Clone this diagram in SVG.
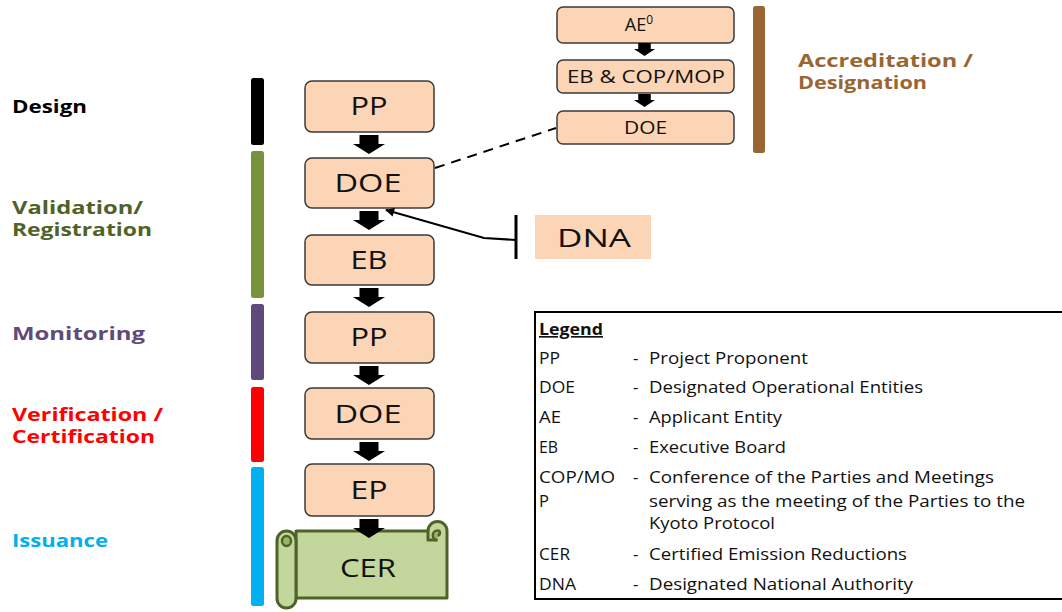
<svg xmlns="http://www.w3.org/2000/svg" width="1062" height="612" viewBox="0 0 1062 612">
  <style>
    .box { fill: #FBD5B5; stroke: #3a3a3a; stroke-width: 1.5; }
    .lbl { font-family: "Open Sans", "Liberation Sans", sans-serif; fill: #111; text-anchor: middle; }
    .big { font-size: 25px; }
    .sm { font-size: 18px; }
    .phase { font-family: "Open Sans", "Liberation Sans", sans-serif; font-weight: bold; font-size: 17px; }
    .leg { font-family: "Open Sans", "Liberation Sans", sans-serif; font-size: 16.5px; fill: #111; }
    .bar { stroke: none; }
  </style>
  <defs>
    <path id="blockArrow" d="M-9.5,0 h19 v9 h6.5 l-16,10 l-16,-10 h6.5 z" fill="#000"/>
    <marker id="tip" viewBox="0 0 10 10" refX="9" refY="5" markerWidth="10" markerHeight="9" markerUnits="userSpaceOnUse" orient="auto">
      <path d="M0,0 L10,5 L0,10 z" fill="#000"/>
    </marker>
  </defs>

  <!-- phase bars -->
  <g id="phase-bars">
    <rect class="bar" x="251" y="78" width="13" height="67" rx="2.5" fill="#000"/>
    <rect class="bar" x="251" y="151" width="13" height="147" rx="2.5" fill="#77933C"/>
    <rect class="bar" x="251" y="304" width="13" height="76" rx="2.5" fill="#604A7B"/>
    <rect class="bar" x="251" y="387" width="13" height="75" rx="2.5" fill="#FF0000"/>
    <rect class="bar" x="251" y="467" width="13" height="139" rx="2.5" fill="#00B0F0"/>
    <rect class="bar" x="753" y="6" width="12" height="147" rx="2.5" fill="#996633"/>
  </g>

  <!-- phase labels -->
  <g id="phase-labels">
    <text class="phase" x="12" y="113" fill="#000" textLength="75" lengthAdjust="spacingAndGlyphs">Design</text>
    <text class="phase" x="12" y="214" fill="#4F6228" textLength="131" lengthAdjust="spacingAndGlyphs">Validation/</text>
    <text class="phase" x="12" y="236" fill="#4F6228" textLength="140" lengthAdjust="spacingAndGlyphs">Registration</text>
    <text class="phase" x="12" y="340" fill="#604A7B" textLength="133" lengthAdjust="spacingAndGlyphs">Monitoring</text>
    <text class="phase" x="12" y="421" fill="#FF0000" textLength="151" lengthAdjust="spacingAndGlyphs">Verification /</text>
    <text class="phase" x="12" y="443" fill="#FF0000" textLength="143" lengthAdjust="spacingAndGlyphs">Certification</text>
    <text class="phase" x="12" y="547" fill="#00B0F0" textLength="96" lengthAdjust="spacingAndGlyphs">Issuance</text>
    <text class="phase" x="798" y="67" fill="#996633" textLength="175" lengthAdjust="spacingAndGlyphs">Accreditation /</text>
    <text class="phase" x="798" y="89" fill="#996633" textLength="129" lengthAdjust="spacingAndGlyphs">Designation</text>
  </g>

  <!-- main flow -->
  <g id="node-pp1">
    <rect class="box" x="305" y="81" width="129" height="51" rx="7"/>
    <text class="lbl big" x="369" y="115" textLength="37" lengthAdjust="spacingAndGlyphs">PP</text>
  </g>
  <g id="node-doe1">
    <rect class="box" x="305" y="158" width="129" height="50" rx="7"/>
    <text class="lbl big" x="368" y="192" textLength="67" lengthAdjust="spacingAndGlyphs">DOE</text>
  </g>
  <g id="node-eb">
    <rect class="box" x="305" y="235" width="129" height="50" rx="7"/>
    <text class="lbl big" x="369" y="269" textLength="37" lengthAdjust="spacingAndGlyphs">EB</text>
  </g>
  <g id="node-pp2">
    <rect class="box" x="305" y="312" width="129" height="51" rx="7"/>
    <text class="lbl big" x="369" y="346" textLength="37" lengthAdjust="spacingAndGlyphs">PP</text>
  </g>
  <g id="node-doe2">
    <rect class="box" x="305" y="388" width="129" height="51" rx="7"/>
    <text class="lbl big" x="368" y="423" textLength="67" lengthAdjust="spacingAndGlyphs">DOE</text>
  </g>
  <g id="node-ep">
    <rect class="box" x="305" y="464" width="129" height="52" rx="7"/>
    <text class="lbl big" x="369" y="499" textLength="37" lengthAdjust="spacingAndGlyphs">EP</text>
  </g>

  <!-- CER scroll -->
  <g id="node-cer" stroke="#4F6228" stroke-width="3" stroke-linejoin="round">
    <path d="M296,531 H428 A9.5,9.5 0 0 1 447,531 V598 H296 Z" fill="#C3D69B"/>
    <path d="M428,531 V540 H437.5" fill="none"/>
    <path d="M437.5,540 A4.7,4.7 0 0 1 437.5,530.6 A2.4,2.4 0 0 1 437.5,535.4" fill="#9BB563" stroke-width="2.5"/>
    <path d="M277,540.5 A9.5,9.5 0 0 1 296,540.5 V598.5 A9.5,9.5 0 0 1 277,598.5 Z" fill="#C3D69B"/>
    <ellipse cx="286.5" cy="541" rx="4.5" ry="5" fill="#9BB563" stroke-width="2.5"/>
    <text class="lbl big" x="368" y="577" stroke="none" fill="#111" textLength="56" lengthAdjust="spacingAndGlyphs">CER</text>
  </g>

  <!-- accreditation chain -->
  <g id="node-ae">
    <rect class="box" x="557" y="7" width="177" height="36" rx="6"/>
    <text class="lbl sm" x="639" y="31">AE<tspan font-size="12" dy="-7">0</tspan></text>
  </g>
  <g id="node-eb-cop">
    <rect class="box" x="557" y="60" width="177" height="33" rx="6"/>
    <text class="lbl sm" x="646" y="83" textLength="158" lengthAdjust="spacingAndGlyphs">EB &amp; COP/MOP</text>
  </g>
  <g id="node-doe-acc">
    <rect class="box" x="557" y="111" width="177" height="33" rx="6"/>
    <text class="lbl sm" x="645.5" y="134" textLength="43" lengthAdjust="spacingAndGlyphs">DOE</text>
  </g>

  <!-- DNA -->
  <g id="node-dna">
    <rect x="535" y="215" width="116" height="44" fill="#FBD5B5"/>
    <text class="lbl big" x="594" y="247" textLength="74" lengthAdjust="spacingAndGlyphs">DNA</text>
  </g>

  <!-- connectors -->
  <g id="connectors">
    <use href="#blockArrow" x="369" y="135"/>
    <use href="#blockArrow" x="369" y="211"/>
    <use href="#blockArrow" x="369" y="288"/>
    <use href="#blockArrow" x="369" y="366"/>
    <use href="#blockArrow" x="369" y="442"/>
    <use href="#blockArrow" x="369" y="519"/>
    <use href="#blockArrow" transform="translate(644.5,43) scale(0.66,0.68)"/>
    <use href="#blockArrow" transform="translate(644.5,94) scale(0.66,0.68)"/>
    <line x1="435" y1="168" x2="556" y2="128" stroke="#000" stroke-width="2" stroke-dasharray="10,7"/>
    <polyline points="516,240 484,238 386,210" fill="none" stroke="#000" stroke-width="2" marker-end="url(#tip)"/>
    <line x1="516" y1="215" x2="516" y2="259" stroke="#000" stroke-width="3"/>
  </g>

  <!-- legend -->
  <g id="legend">
    <rect x="535" y="312" width="540" height="287" fill="#fff" stroke="#000" stroke-width="2"/>
    <text class="leg" x="539" y="335" font-weight="bold" text-decoration="underline" textLength="64" lengthAdjust="spacingAndGlyphs">Legend</text>
    <text class="leg" x="539" y="364" textLength="21" lengthAdjust="spacingAndGlyphs">PP</text>
    <text class="leg" x="539" y="393" textLength="36" lengthAdjust="spacingAndGlyphs">DOE</text>
    <text class="leg" x="539" y="423" textLength="22" lengthAdjust="spacingAndGlyphs">AE</text>
    <text class="leg" x="539" y="453" textLength="19" lengthAdjust="spacingAndGlyphs">EB</text>
    <text class="leg" x="539" y="483" textLength="76" lengthAdjust="spacingAndGlyphs">COP/MO</text>
    <text class="leg" x="539" y="507">P</text>
    <text class="leg" x="539" y="560" textLength="31" lengthAdjust="spacingAndGlyphs">CER</text>
    <text class="leg" x="539" y="590" textLength="37" lengthAdjust="spacingAndGlyphs">DNA</text>
    <text class="leg" x="633" y="364">-</text>
    <text class="leg" x="633" y="393">-</text>
    <text class="leg" x="633" y="423">-</text>
    <text class="leg" x="633" y="453">-</text>
    <text class="leg" x="633" y="483">-</text>
    <text class="leg" x="633" y="560">-</text>
    <text class="leg" x="633" y="590">-</text>
    <text class="leg" x="649" y="364" textLength="159" lengthAdjust="spacingAndGlyphs">Project Proponent</text>
    <text class="leg" x="649" y="393" textLength="274" lengthAdjust="spacingAndGlyphs">Designated Operational Entities</text>
    <text class="leg" x="649" y="423" textLength="133" lengthAdjust="spacingAndGlyphs">Applicant Entity</text>
    <text class="leg" x="649" y="453" textLength="137" lengthAdjust="spacingAndGlyphs">Executive Board</text>
    <text class="leg" x="649" y="483" textLength="345" lengthAdjust="spacingAndGlyphs">Conference of the Parties and Meetings</text>
    <text class="leg" x="649" y="507" textLength="376" lengthAdjust="spacingAndGlyphs">serving as the meeting of the Parties to the</text>
    <text class="leg" x="649" y="529" textLength="126" lengthAdjust="spacingAndGlyphs">Kyoto Protocol</text>
    <text class="leg" x="649" y="560" textLength="258" lengthAdjust="spacingAndGlyphs">Certified Emission  Reductions</text>
    <text class="leg" x="649" y="590" textLength="264" lengthAdjust="spacingAndGlyphs">Designated National  Authority</text>
  </g>
</svg>
